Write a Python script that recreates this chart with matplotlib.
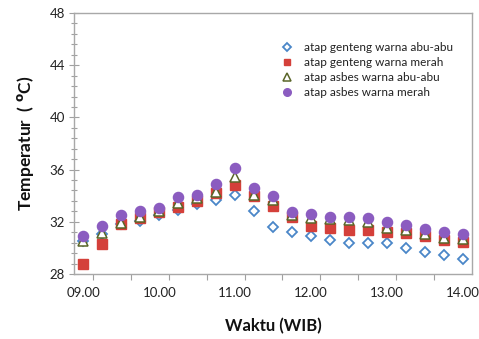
import matplotlib
matplotlib.use("Agg")
import matplotlib.pyplot as plt
import numpy as np
from matplotlib.ticker import FixedLocator, MultipleLocator

plt.rcParams['font.family'] = ['Lato', 'DejaVu Sans']

# time in hours, every 15 minutes from 09.00 to 14.00
hours = [9 + 0.25 * i for i in range(21)]
tick_labels = ["09.00", "10.00", "11.00", "12.00", "13.00", "14.00"]
tick_hours = [9, 10, 11, 12, 13, 14]

genteng_abu = [30.5, 31.1, 31.85, 32.09, 32.55, 32.93, 33.36, 33.70, 34.03, 32.83, 31.60,
               31.22, 30.91, 30.63, 30.40, 30.38, 30.38, 30.02, 29.69, 29.43, 29.12]
genteng_merah = [28.79, 30.27, 31.86, 32.27, 32.78, 33.13, 33.59, 34.18, 34.84, 34.00, 33.24,
                 32.40, 31.68, 31.50, 31.40, 31.40, 31.19, 31.12, 30.94, 30.60, 30.45]
asbes_abu = [30.53, 31.14, 31.90, 32.34, 32.80, 33.42, 33.80, 34.26, 35.41, 34.03, 33.67,
             32.52, 32.27, 32.19, 32.14, 31.96, 31.50, 31.37, 31.04, 30.73, 30.66]
asbes_merah = [30.91, 31.70, 32.52, 32.80, 33.06, 33.90, 34.03, 34.87, 36.15, 34.61, 34.00,
               32.75, 32.60, 32.34, 32.40, 32.31, 31.96, 31.75, 31.42, 31.19, 31.04]

labels = ["atap genteng warna abu-abu", "atap genteng warna merah",
          "atap asbes warna abu-abu", "atap asbes warna merah"]

fig = plt.figure(figsize=(4.79, 3.39), dpi=100)
ax = fig.add_axes([0.1545, 0.1917, 0.8309, 0.7700])

ax.plot(hours, genteng_abu, linestyle='none', marker='D', markersize=5.2,
        markerfacecolor='white', markeredgecolor='#4a86c8', markeredgewidth=1.3,
        label=labels[0], zorder=2)
ax.plot(hours, genteng_merah, linestyle='none', marker='s', markersize=6.5,
        markerfacecolor='#d4403a', markeredgecolor='#d4403a', label=labels[1], zorder=3)
ax.plot(hours, asbes_abu, linestyle='none', marker='^', markersize=7.0,
        markerfacecolor='white', markeredgecolor='#5a6628', markeredgewidth=1.1,
        label=labels[2], zorder=4)
ax.plot(hours, asbes_merah, linestyle='none', marker='o', markersize=7.3,
        markerfacecolor='#8b5cc0', markeredgecolor='#8b5cc0', label=labels[3], zorder=5)

ax.set_xlim(8.875, 14.125)
ax.set_ylim(28, 48)

ax.set_xticks(tick_hours)
ax.set_xticklabels(tick_labels)
ax.xaxis.set_minor_locator(FixedLocator([9.125 + 0.5 * k for k in range(10)]))
ax.tick_params(axis='x', which='major', length=0, pad=9, labelsize=9.5, labelcolor='#222222')
ax.tick_params(axis='x', which='minor', length=4, direction='out', color='#a0a0a0', width=0.8)

ax.set_yticks([28, 32, 36, 40, 44, 48])
ax.yaxis.set_minor_locator(MultipleLocator(0.8))
ax.tick_params(axis='y', which='major', length=7, direction='inout', color='#a0a0a0',
               width=0.8, labelsize=9.5, labelcolor='#222222', pad=3)
ax.tick_params(axis='y', which='minor', length=5, direction='inout', color='#a0a0a0', width=0.8)

for s in ax.spines.values():
    s.set_color('#a8a8a8')
    s.set_linewidth(1.0)

ax.set_xlabel("Waktu (WIB)", fontsize=12, fontweight='bold', labelpad=14, color='#111111')
ax.set_ylabel(r"Temperatur  ( $^{\mathbf{o}}$C)", fontsize=12.5, fontweight='bold',
              labelpad=10, color='#111111')

leg = ax.legend(loc='upper left', bbox_to_anchor=(0.49, 0.93), frameon=False,
                fontsize=8.5, handletextpad=0.9, labelspacing=0.35, markerscale=0.75,
                handlelength=1.2)
for t in leg.get_texts():
    t.set_color('#222222')

fig.savefig("out.png", dpi=100)
